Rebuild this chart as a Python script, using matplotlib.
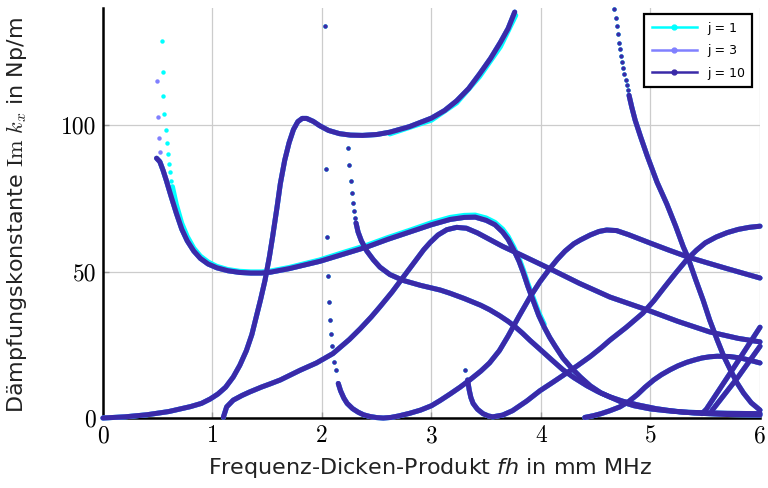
import matplotlib
matplotlib.use("Agg")
import matplotlib.pyplot as plt
from matplotlib.lines import Line2D

C1 = "#00FFFF"
C3 = "#8080FF"
C10 = "#3A2AA8"

# --- branches (fh in mm MHz, Im k_x in Np/m) ---
A_X = [0, 0.2, 0.4, 0.6, 0.8, 0.9, 0.98, 1.05, 1.12, 1.19, 1.25, 1.31, 1.36, 1.40,
       1.44, 1.48, 1.52, 1.55, 1.59, 1.62, 1.66, 1.70, 1.74, 1.78, 1.82, 1.86, 1.92,
       1.98, 2.06, 2.16, 2.26, 2.37, 2.5, 2.62, 2.8, 3.0, 3.12, 3.23, 3.34, 3.44,
       3.54, 3.63, 3.70, 3.76]
A_Y = [0, 0.4, 1.1, 2.2, 3.9, 5.0, 6.5, 8.2, 10.5, 14, 18, 23, 28.5, 34.5,
       40.5, 47, 55, 62, 72, 80, 88, 94, 98.5, 101.2, 102.3, 102.3, 101.3,
       99.8, 98.2, 97.1, 96.6, 96.5, 96.8, 97.6, 99.5, 102.4, 105, 108.3, 112.5, 117.5,
       122.8, 128.3, 133, 138.6]

B_X = [0.49, 0.52, 0.55, 0.58, 0.62, 0.67, 0.72, 0.77, 0.83, 0.89, 0.96, 1.04, 1.14,
       1.25, 1.35, 1.45, 1.53, 1.7, 1.98, 2.2, 2.41, 2.6, 2.8, 3.0, 3.17, 3.3, 3.4,
       3.5, 3.58, 3.65, 3.70, 3.75, 3.80, 3.84, 3.88, 3.93, 3.98, 4.03, 4.08, 4.13,
       4.2, 4.28, 4.36, 4.45, 4.55, 4.72, 4.85, 5.0, 5.15, 5.3, 5.5, 5.7, 6.0]
B_Y = [88.7, 87.5, 84.5, 81, 76, 70, 64.5, 60.5, 57, 54.5, 52.6, 51.3, 50.3,
       49.7, 49.5, 49.5, 49.8, 51, 53.5, 56, 58.4, 61, 63.5, 66, 67.8, 68.5, 68.6,
       67.5, 66, 63.5, 61, 57.5, 53.5, 49.5, 45, 40, 35, 31, 27.5, 24.5,
       20.5, 17, 14, 11, 8.5, 5.7, 4.2, 3.1, 2.5, 2.0, 1.8, 1.6, 1.5]

C_X = [2.311, 2.33, 2.36, 2.41, 2.47, 2.53, 2.62, 2.74, 2.9, 3.08, 3.17, 3.3, 3.45,
       3.53, 3.62, 3.70, 3.76, 3.83, 3.9, 3.99, 4.1, 4.2, 4.3, 4.42, 4.52, 4.63,
       4.75, 4.88, 5.05, 5.2, 5.4, 5.7, 6.0]
C_Y = [66.6, 63.5, 60.5, 57, 54, 51.5, 49, 47, 45.3, 43.7, 42.6, 40.8, 38.5,
       37, 35, 33, 31.3, 29, 26.5, 23.5, 19.8, 16.5, 13.8, 11, 9, 7.2,
       5.7, 4.5, 3.2, 2.4, 1.7, 1.2, 1.0]
C_DOTS_X = [2.240, 2.249, 2.265, 2.271, 2.280, 2.289, 2.301]
C_DOTS_Y = [92.2, 86.3, 80.9, 76.8, 73.4, 70.6, 68.3]

D_X = [1.10, 1.13, 1.19, 1.27, 1.34, 1.45, 1.53, 1.62, 1.8, 1.95, 2.1, 2.25, 2.35,
       2.45, 2.53, 2.64, 2.74, 2.85, 2.93, 2.99, 3.06, 3.14, 3.23, 3.32, 3.42, 3.53,
       3.65, 3.8, 4.08, 4.35, 4.63, 4.97, 5.25, 5.54, 5.8, 6.0]
D_Y = [0.3, 3.8, 6.1, 7.7, 8.9, 10.6, 11.7, 13, 16.3, 18.8, 22, 26.8, 30.5,
       34.5, 38, 43, 48, 53.5, 57.5, 60, 62.5, 64.3, 65.1, 64.8, 63.2, 61,
       58.6, 56, 51, 46, 41.3, 36.9, 33, 29.4, 27.2, 26]

E_X = [3.33, 3.345, 3.36, 3.38, 3.42, 3.47, 3.52, 3.56, 3.65, 3.74, 3.87, 3.99, 4.1,
       4.2, 4.33, 4.45, 4.55, 4.63, 4.78, 4.93, 5.03, 5.13, 5.23, 5.33, 5.42, 5.5,
       5.6, 5.70, 5.8, 5.9, 6.0]
E_Y = [13, 9.5, 7, 5, 3, 1.5, 0.7, 0.4, 1.0, 2.5, 5.8, 9.3, 12,
       14.5, 17.8, 21, 24, 26.6, 31, 35.8, 40, 44.8, 49.5, 54, 57.3, 59.8,
       61.8, 63.3, 64.4, 65.1, 65.5]
E_DOTS_X = [3.31]
E_DOTS_Y = [16.4]

F_X = [2.149, 2.17, 2.2, 2.23, 2.28, 2.33, 2.38, 2.44, 2.5, 2.56, 2.63, 2.7, 2.8,
       2.9, 3.0, 3.08, 3.17, 3.26, 3.35, 3.45, 3.53, 3.62, 3.7, 3.8, 3.9, 3.99,
       4.08, 4.15, 4.22, 4.3, 4.36, 4.45, 4.53, 4.6, 4.69, 4.8, 5.0, 5.17, 5.34,
       5.5, 5.7, 5.85, 6.0]
F_Y = [11.8, 9.3, 6.8, 5, 3.2, 2, 1.1, 0.5, 0.15, 0, 0.2, 0.7, 1.6,
       2.7, 4.2, 6, 8.2, 10.5, 13, 16, 18.8, 23, 28, 34.8, 41.3, 46.5,
       51, 54.2, 57, 59.5, 60.8, 62.5, 63.7, 64.2, 64, 62.6, 59.7, 57.3, 55,
       53.2, 51, 49.4, 47.8]
F_DOTS_X = [2.027, 2.037, 2.043, 2.052, 2.064, 2.073, 2.082, 2.094, 2.110, 2.125]
F_DOTS_Y = [133.8, 85, 61.9, 48.6, 39.7, 33.4, 28.6, 24.7, 19.2, 16.4]

G_X = [4.804, 4.83, 4.86, 4.91, 4.97, 5.06, 5.15, 5.23, 5.30, 5.34, 5.41, 5.48, 5.54,
       5.61, 5.67, 5.73, 5.79, 5.85, 5.92, 6.0]
G_Y = [110.2, 106, 101.7, 96, 89.5, 80.5, 73, 65.5, 58.4, 55, 47.5, 40.3, 33.5,
       26.6, 21, 16.4, 12, 8.5, 5.2, 2.7]
G_DOTS_X = [4.669, 4.682, 4.691, 4.700, 4.712, 4.721, 4.731, 4.743, 4.752, 4.761,
            4.774, 4.783, 4.792]
G_DOTS_Y = [139.8, 136.6, 133.8, 131.0, 128.2, 126.0, 123.6, 121.4, 119.4, 117.4,
            115.4, 113.7, 112.0]

H_X = [4.40, 4.48, 4.55, 4.63, 4.72, 4.8, 4.88, 4.95, 5.03, 5.1, 5.18, 5.25, 5.33,
       5.4, 5.47, 5.54, 5.61, 5.72, 5.82, 5.9, 6.0]
H_Y = [0.2, 0.8, 1.5, 2.5, 3.8, 5.6, 8, 10.5, 13, 14.8, 16.5, 17.8, 19,
       19.8, 20.5, 20.9, 21.1, 21, 20.5, 19.8, 18.8]

I_X = [5.47, 5.51, 5.75, 6.0]
I_Y = [1.5, 3, 16.6, 31]

J_X = [5.56, 5.8, 6.0]
J_Y = [2.5, 14, 24.5]

# j = 1 and j = 3 differ only near the start of branch B and slightly on A/B
B1_X = [0.635, 0.67, 0.72, 0.77, 0.83, 0.89, 0.96, 1.04, 1.14, 1.25, 1.35, 1.45, 1.53,
        1.7, 1.98, 2.2, 2.41, 2.6, 2.8, 3.0, 3.17, 3.3, 3.4, 3.5, 3.58, 3.65, 3.70,
        3.75, 3.80, 3.84, 3.88, 3.93, 3.98, 4.03]
B1_Y = [79, 73, 66.5, 62, 58, 55.3, 53.3, 51.8, 50.7, 50.1, 49.9, 49.9, 50.2,
        51.4, 54.0, 56.6, 59, 61.6, 64.1, 66.7, 68.5, 69.2, 69.3, 68.3, 66.8, 64.5, 62,
        58.5, 54.5, 50.5, 46, 41, 36, 32]
B1_DOTS_X = [0.54, 0.55, 0.553, 0.56, 0.575, 0.585, 0.595, 0.605, 0.615, 0.625]
B1_DOTS_Y = [128.7, 118, 110, 103.7, 98.3, 94, 90, 86.7, 84, 81]
A1_X = [2.62, 3.0, 3.23, 3.44, 3.63, 3.77]
A1_Y = [97.0, 101.7, 107.6, 116.6, 126.8, 137.5]
B3_DOTS_X = [0.49, 0.50, 0.51, 0.52]
B3_DOTS_Y = [115, 102.7, 95.5, 90.7]

LINES = [(A_X, A_Y), (B_X, B_Y), (C_X, C_Y), (D_X, D_Y), (E_X, E_Y),
         (F_X, F_Y), (G_X, G_Y), (H_X, H_Y), (I_X, I_Y), (J_X, J_Y)]
DOTS = [(C_DOTS_X, C_DOTS_Y), (E_DOTS_X, E_DOTS_Y), (F_DOTS_X, F_DOTS_Y),
        (G_DOTS_X, G_DOTS_Y)]

fig = plt.figure(figsize=(7.68, 4.88), dpi=100)
ax = fig.add_axes([0.134, 0.1434, 0.8556, 0.8402])

lw = 3.6
ms = 3.2


def draw_branch(xs, ys, color, z):
    ax.plot(xs, ys, "-", color=color, lw=lw, solid_capstyle="round",
            solid_joinstyle="round", zorder=z, clip_on=False)


def draw_dots(xs, ys, color, z):
    ax.plot(xs, ys, "o", color=color, ms=ms, mew=0, zorder=z, clip_on=False)


# j = 1 (bottom layer)
for xs, ys in LINES:
    draw_branch(xs, ys, C1, 3)
draw_branch(B1_X, B1_Y, C1, 3)
draw_branch(A1_X, A1_Y, C1, 3)
draw_dots(B1_DOTS_X, B1_DOTS_Y, C1, 3)
for xs, ys in DOTS:
    draw_dots(xs, ys, C1, 3)

# j = 3
for xs, ys in LINES:
    draw_branch(xs, ys, C3, 4)
draw_dots(B3_DOTS_X, B3_DOTS_Y, C3, 4)

# j = 10 (top layer)
for xs, ys in LINES:
    draw_branch(xs, ys, C10, 5)
for xs, ys in DOTS:
    draw_dots(xs, ys, C10, 5)

ax.set_xlim(0, 6)
ax.set_ylim(0, 140)
ax.set_xticks(range(7))
ax.set_yticks([0, 50, 100])
ax.grid(True, color="0.8", lw=0.9, zorder=0)
ax.set_axisbelow(True)
ax.tick_params(direction="in", color="0.6", length=4, width=1, pad=5)
for lab in ax.get_xticklabels() + ax.get_yticklabels():
    lab.set_fontfamily("cmr10")
    lab.set_fontsize(17)

for side in ("top", "right"):
    ax.spines[side].set_visible(False)
for side in ("left", "bottom"):
    ax.spines[side].set_linewidth(1.8)
    ax.spines[side].set_color("black")
    ax.spines[side].set_zorder(2)

ax.set_xlabel(r"Frequenz-Dicken-Produkt $\it{fh}$ in mm MHz", fontsize=16,
              color="#222222", math_fontfamily="dejavusans")
ax.set_ylabel(r"Dämpfungskonstante $\mathrm{Im}\ k_x$ in Np/m", fontsize=16,
              color="#222222", math_fontfamily="cm")
ax.xaxis.set_label_coords(0.498, -0.093)
ax.yaxis.set_label_coords(-0.113, 0.495)

handles = [Line2D([], [], color=c, lw=1.8, marker="o", ms=3.5) for c in (C1, C3, C10)]
leg = ax.legend(handles, ["j = 1", "j = 3", "j = 10"], loc="upper right",
                bbox_to_anchor=(0.998, 1.0), fontsize=9, handlelength=3.6,
                fancybox=False, framealpha=1, edgecolor="black", borderpad=0.6,
                labelspacing=0.75)
leg.get_frame().set_linewidth(1.6)
leg.set_zorder(10)

fig.savefig("out.png", dpi=100)
